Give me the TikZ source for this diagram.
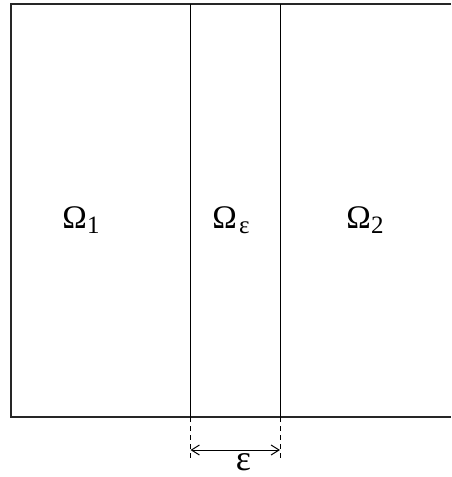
\documentclass[tikz,border=0pt]{standalone}
\usepackage{fontspec}
\setmainfont{Liberation Serif}
\usetikzlibrary{arrows.meta, positioning, calc}
\newcommand{\lowsub}[1]{\raisebox{-0.3ex}{\fontsize{12.5}{14}\selectfont #1}}

\begin{document}
\begin{tikzpicture}[x=0.5pt, y=-0.5pt,
    wall/.style={black!85, line width=1pt},
    cut/.style={black, line width=0.5pt},
    gap/.style={black, line width=0.4pt, dash pattern=on 2.5pt off 2pt},
    lbl/.style={inner sep=0pt, font=\fontsize{16.5}{19}\selectfont}]
    \useasboundingbox (0,0) rectangle (451,477);
    % domain outline (right side runs off the page)
    \coordinate (tr) at (451,4);
    \coordinate (tl) at (11,4);
    \coordinate (bl) at (11,417);
    \coordinate (br) at (451,417);
    \draw[wall] (tr) -- (tl) -- (bl) -- (br);
    % the thin layer
    \coordinate (a0) at (190.5,4);
    \coordinate (a1) at (190.5,417);
    \coordinate (b0) at (280,4);
    \coordinate (b1) at (280,417);
    \draw[cut] (a0) -- (a1);
    \draw[cut] (b0) -- (b1);
    \coordinate (a2) at (190.5,458);
    \coordinate (b2) at (280,458);
    \draw[gap] (a1) -- (a2);
    \draw[gap] (b1) -- (b2);
    \coordinate (pa) at (190.5,450);
    \coordinate (pb) at (280,450);
    \draw[cut, {Straight Barb[length=4pt,width=5pt]}-{Straight Barb[length=4pt,width=5pt]}] (pa) -- (pb);
    \node[lbl, anchor=base, text depth=0pt, font=\fontsize{18}{20}\selectfont] (eps) at (243.5,470) {ε};
    % labels
    \node[lbl] (om1) at (81,220) {Ω\lowsub{1}};
    \node[lbl] (ome) at (231,220) {Ω\kern1pt\lowsub{ε}};
    \node[lbl] (om2) at (365,220) {Ω\lowsub{2}};
\end{tikzpicture}
\end{document}
